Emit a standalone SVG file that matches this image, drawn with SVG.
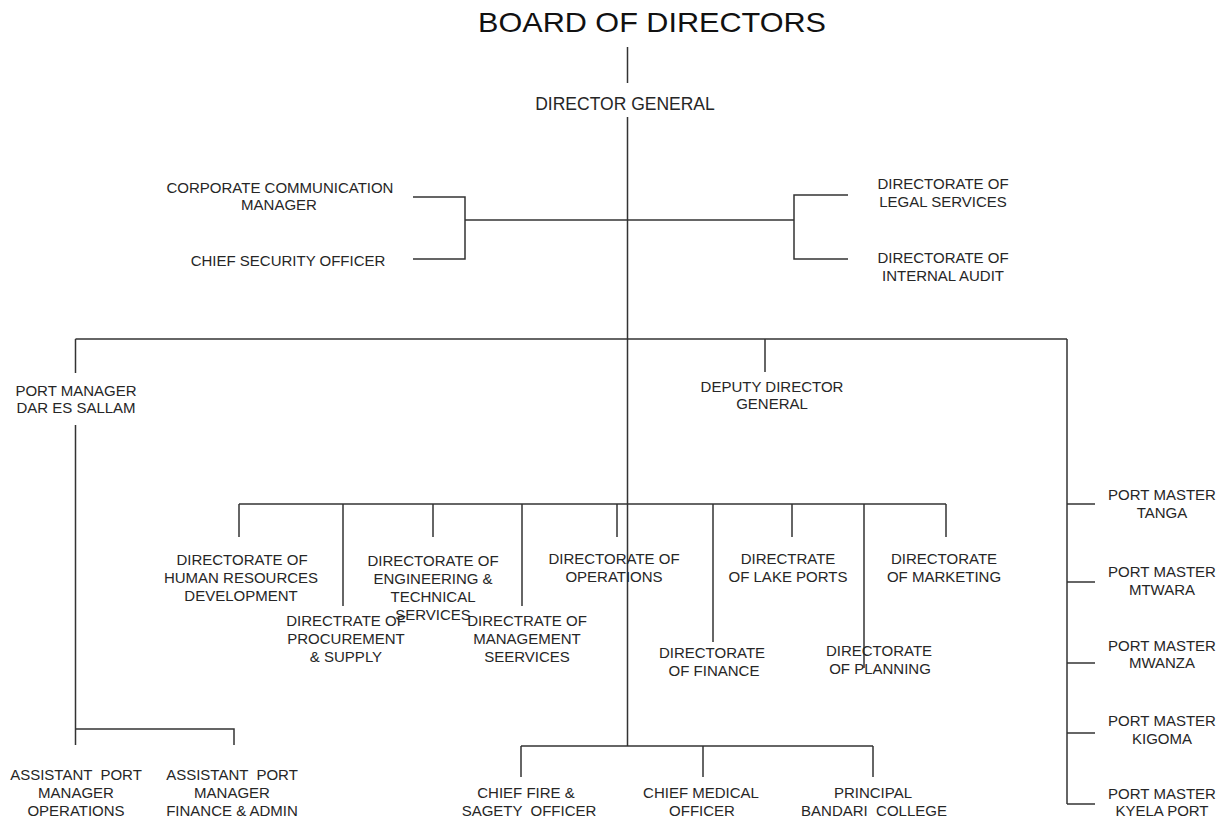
<svg xmlns="http://www.w3.org/2000/svg" width="1225" height="818" viewBox="0 0 1225 818">
  <style>
    text { font-family: "Liberation Sans", Arial, sans-serif; font-size: 15px; fill: #262626; text-anchor: middle; }
    .title { font-size: 28.5px; fill: #111; }
    .dg { font-size: 17.5px; }
    .conn line, .conn path { stroke: #333; stroke-width: 1.5; fill: none; }
  </style>
  <rect width="1225" height="818" fill="#fff"/>

  <!-- connectors -->
  <g class="conn" id="connectors">
    <!-- board to director general -->
    <line x1="627.5" y1="47" x2="627.5" y2="83"/>
    <!-- main spine -->
    <line x1="627.5" y1="117" x2="627.5" y2="746"/>
    <!-- staff bracket row -->
    <line x1="465" y1="220" x2="794" y2="220"/>
    <path d="M413 197 H465 V259 H413"/>
    <path d="M848 195 H794 V259 H848"/>
    <!-- second level bar -->
    <line x1="75.5" y1="339" x2="1067" y2="339"/>
    <line x1="75.5" y1="339" x2="75.5" y2="373"/>
    <line x1="75.5" y1="425" x2="75.5" y2="745"/>
    <line x1="765" y1="339" x2="765" y2="372"/>
    <line x1="1067" y1="339" x2="1067" y2="804"/>
    <!-- port masters -->
    <line x1="1067" y1="504" x2="1095" y2="504"/>
    <line x1="1067" y1="582" x2="1095" y2="582"/>
    <line x1="1067" y1="663" x2="1095" y2="663"/>
    <line x1="1067" y1="733" x2="1095" y2="733"/>
    <line x1="1067" y1="804" x2="1095" y2="804"/>
    <!-- assistant port managers -->
    <path d="M75.5 729 H234 V745"/>
    <!-- directorates bar -->
    <line x1="239" y1="504" x2="946" y2="504"/>
    <line x1="239" y1="504" x2="239" y2="537"/>
    <line x1="433" y1="504" x2="433" y2="537"/>
    <line x1="617" y1="504" x2="617" y2="537"/>
    <line x1="792" y1="504" x2="792" y2="537"/>
    <line x1="946" y1="504" x2="946" y2="537"/>
    <line x1="343" y1="504" x2="343" y2="606"/>
    <line x1="522" y1="504" x2="522" y2="606"/>
    <line x1="713" y1="504" x2="713" y2="642"/>
    <line x1="864" y1="504" x2="864" y2="668"/>
    <!-- bottom row -->
    <line x1="521" y1="746" x2="873" y2="746"/>
    <line x1="521" y1="746" x2="521" y2="777"/>
    <line x1="703" y1="746" x2="703" y2="777"/>
    <line x1="873" y1="746" x2="873" y2="777"/>
  </g>

  <g id="board"><text class="title" x="652" y="32" textLength="348" lengthAdjust="spacingAndGlyphs">BOARD OF DIRECTORS</text></g>
  <g id="director-general"><text class="dg" x="625" y="110">DIRECTOR GENERAL</text></g>

  <g id="corporate-communication">
    <text x="280" y="193">CORPORATE COMMUNICATION</text>
    <text x="279" y="210">MANAGER</text>
  </g>
  <g id="chief-security"><text x="288" y="266">CHIEF SECURITY OFFICER</text></g>
  <g id="legal-services">
    <text x="943" y="189">DIRECTORATE OF</text>
    <text x="943" y="207">LEGAL SERVICES</text>
  </g>
  <g id="internal-audit">
    <text x="943" y="263">DIRECTORATE OF</text>
    <text x="943" y="281">INTERNAL AUDIT</text>
  </g>

  <g id="port-manager-dar">
    <text x="76" y="396">PORT MANAGER</text>
    <text x="76" y="413">DAR ES SALLAM</text>
  </g>
  <g id="deputy-director-general">
    <text x="772" y="392">DEPUTY DIRECTOR</text>
    <text x="772" y="409">GENERAL</text>
  </g>

  <g id="dir-hr">
    <text x="242" y="565">DIRECTORATE OF</text>
    <text x="241" y="583">HUMAN RESOURCES</text>
    <text x="241" y="601">DEVELOPMENT</text>
  </g>
  <g id="dir-engineering">
    <text x="433" y="566">DIRECTORATE OF</text>
    <text x="433" y="584">ENGINEERING &amp;</text>
    <text x="433" y="602">TECHNICAL</text>
    <text x="433" y="620">SERVICES</text>
  </g>
  <g id="dir-operations">
    <text x="614" y="564">DIRECTORATE OF</text>
    <text x="614" y="582">OPERATIONS</text>
  </g>
  <g id="dir-lake-ports">
    <text x="788" y="564">DIRECTRATE</text>
    <text x="788" y="582">OF LAKE PORTS</text>
  </g>
  <g id="dir-marketing">
    <text x="944" y="564">DIRECTORATE</text>
    <text x="944" y="582">OF MARKETING</text>
  </g>
  <g id="dir-procurement">
    <text x="346" y="626">DIRECTRATE OF</text>
    <text x="346" y="644">PROCUREMENT</text>
    <text x="346" y="662">&amp; SUPPLY</text>
  </g>
  <g id="dir-management">
    <text x="527" y="626">DIRECTRATE OF</text>
    <text x="527" y="644">MANAGEMENT</text>
    <text x="527" y="662">SEERVICES</text>
  </g>
  <g id="dir-finance">
    <text x="712" y="658">DIRECTORATE</text>
    <text x="714" y="676">OF FINANCE</text>
  </g>
  <g id="dir-planning">
    <text x="879" y="656">DIRECTORATE</text>
    <text x="880" y="674">OF PLANNING</text>
  </g>

  <g id="port-master-tanga">
    <text x="1162" y="500">PORT MASTER</text>
    <text x="1162" y="518">TANGA</text>
  </g>
  <g id="port-master-mtwara">
    <text x="1162" y="577">PORT MASTER</text>
    <text x="1162" y="595">MTWARA</text>
  </g>
  <g id="port-master-mwanza">
    <text x="1162" y="651">PORT MASTER</text>
    <text x="1162" y="668">MWANZA</text>
  </g>
  <g id="port-master-kigoma">
    <text x="1162" y="726">PORT MASTER</text>
    <text x="1162" y="744">KIGOMA</text>
  </g>
  <g id="port-master-kyela">
    <text x="1162" y="799">PORT MASTER</text>
    <text x="1162" y="816">KYELA PORT</text>
  </g>

  <g id="asst-pm-operations">
    <text x="76" y="780" xml:space="preserve">ASSISTANT  PORT</text>
    <text x="76" y="798">MANAGER</text>
    <text x="76" y="816">OPERATIONS</text>
  </g>
  <g id="asst-pm-finance">
    <text x="232" y="780" xml:space="preserve">ASSISTANT  PORT</text>
    <text x="232" y="798">MANAGER</text>
    <text x="232" y="816">FINANCE &amp; ADMIN</text>
  </g>

  <g id="chief-fire">
    <text x="526" y="798">CHIEF FIRE &amp;</text>
    <text x="529" y="816" xml:space="preserve">SAGETY  OFFICER</text>
  </g>
  <g id="chief-medical">
    <text x="701" y="798">CHIEF MEDICAL</text>
    <text x="702" y="816">OFFICER</text>
  </g>
  <g id="principal-bandari">
    <text x="873" y="798">PRINCIPAL</text>
    <text x="874" y="816" xml:space="preserve">BANDARI  COLLEGE</text>
  </g>
</svg>
